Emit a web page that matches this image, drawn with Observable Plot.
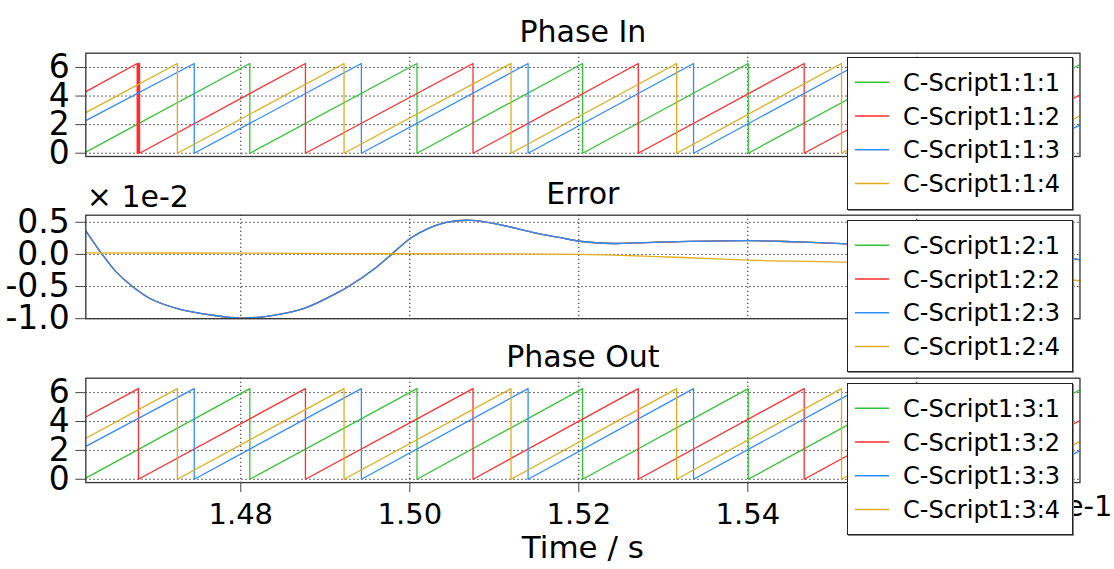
<!DOCTYPE html>
<html>
<head>
<meta charset="utf-8">
<script src="https://cdn.jsdelivr.net/npm/d3@7"></script>
<script src="https://cdn.jsdelivr.net/npm/@observablehq/plot@0.6"></script>
<style>
  html, body { margin: 0; padding: 0; background: #fff; }
  #root { position: relative; width: 1114px; height: 569px; overflow: hidden; font-family: "DejaVu Sans", sans-serif; }
  .panel { position: absolute; left: 0; }
  .legend { position: absolute; left: 847px; width: 226px; background: #fff; border: 1px solid #222; box-shadow: 1px 1px 0 #888; box-sizing: border-box; }
  .legend svg { display: block; }
</style>
</head>
<body>
<div id="root"></div>
<script>
// ---------- data ----------
const timeDomain = [1.46166, 1.57931];
const xTicks = [1.48, 1.50, 1.52, 1.54, 1.56];
const xLabelTicks = [1.48, 1.50, 1.52, 1.54];
const phaseTicks = [0, 2, 4, 6];
const errorTicks = [-1.0, -0.5, 0.0, 0.5];
const phaseDomain = [-0.23, 7.0];
const errorDomain = [-1.0, 0.61];
const phaseMax = 6.28;

const titles = ["Phase In", "Error", "Phase Out"];
const namesIn = ["C-Script1:1:1", "C-Script1:1:2", "C-Script1:1:3", "C-Script1:1:4"];
const namesErr = ["C-Script1:2:1", "C-Script1:2:2", "C-Script1:2:3", "C-Script1:2:4"];
const namesOut = ["C-Script1:3:1", "C-Script1:3:2", "C-Script1:3:3", "C-Script1:3:4"];
const colors = ["#35c435", "#ff2d2d", "#2f8cff", "#e2ad1c"];

// sawtooth reset instants (wrap 2π -> 0)
const resetsGreen = [1.48107, 1.50085, 1.52045, 1.54005, 1.55968];
const resetsRed = [1.46789, 1.48765, 1.50748, 1.52704, 1.54667, 1.56633];
const resetsRedIn = [1.46774, 1.46788, 1.46802, 1.48765, 1.50748, 1.52704, 1.54667, 1.56633];
const resetsBlue = [1.47449, 1.49427, 1.51400, 1.53358, 1.55322, 1.57288];
const resetsYellow = [1.47249, 1.49222, 1.51198, 1.53158, 1.55109, 1.57075];
// values at the left and right edges
const startValues = [0.08, 4.31, 2.28, 2.84];
const endValues = [6.2, 4.07, 1.98, 2.62];

// error (x 1e-2): phases 1..3 overlap
const errTime = [1.46170, 1.46361, 1.46517, 1.46718, 1.46931, 1.47270, 1.47689, 1.47985, 1.48328, 1.48749,
                 1.49168, 1.49275, 1.49594, 1.49783, 1.50017, 1.50228, 1.50434, 1.50730, 1.51073, 1.51496,
                 1.51783, 1.52006, 1.52411, 1.53062, 1.54005, 1.54576, 1.55180, 1.56400, 1.57925];
const errPhase = [0.36, 0.0, -0.26, -0.5, -0.69, -0.85, -0.95, -0.99, -0.96, -0.84,
                  -0.58, -0.5, -0.21, 0.0, 0.26, 0.41, 0.50, 0.53, 0.46, 0.33,
                  0.26, 0.205, 0.17, 0.195, 0.215, 0.195, 0.165, 0.10, -0.08];
const errYTime = [1.46170, 1.48, 1.50, 1.52, 1.5306, 1.54005, 1.5518, 1.5640, 1.57925];
const errYellow = [0.025, 0.02, 0.01, 0.0, -0.04, -0.09, -0.12, -0.2, -0.41];

// ---------- build tables ----------
function sawRows(name, resets, v0, v1) {
  const rows = [{series: name, t: timeDomain[0], v: v0}];
  for (const r of resets) {
    rows.push({series: name, t: r, v: phaseMax});
    rows.push({series: name, t: r, v: 0});
  }
  rows.push({series: name, t: timeDomain[1], v: v1});
  return rows;
}
function phaseTable(names, resetSets) {
  return names.flatMap((n, i) => sawRows(n, resetSets[i], startValues[i], endValues[i]));
}
const phaseInData = phaseTable(namesIn, [resetsGreen, resetsRedIn, resetsBlue, resetsYellow]);
const phaseOutData = phaseTable(namesOut, [resetsGreen, resetsRed, resetsBlue, resetsYellow]);
const errorData = [
  ...[0, 1, 2].flatMap(i => errTime.map((t, j) => ({series: namesErr[i], t, v: errPhase[j]}))),
  ...errYTime.map((t, j) => ({series: namesErr[3], t, v: errYellow[j]}))
];

// ---------- geometry ----------
const W = 1114, ML = 85.3, MR = W - 1079.5, MT = 52.7, pitch = 162.3;
const root = document.getElementById("root");
const gridStyle = {stroke: "#000", strokeOpacity: 0.9, strokeWidth: 1, strokeDasharray: "1.3,2.7"};

function panel({top, height, marginBottom, yDomain, yTicks, yFormat, data, names, title, extra = [], curve = "linear"}) {
  const chart = Plot.plot({
    width: W, height,
    marginLeft: ML, marginRight: MR, marginTop: MT, marginBottom,
    style: {fontFamily: "DejaVu Sans, sans-serif", fontSize: "33px", color: "#111", background: "transparent", overflow: "visible"},
    x: {domain: timeDomain, axis: null},
    y: {domain: yDomain, axis: null},
    color: {domain: names, range: colors},
    marks: [
      Plot.gridX(xTicks, {...gridStyle}),
      Plot.gridY(yTicks, {...gridStyle}),
      Plot.line(data, {x: "t", y: "v", z: "series", stroke: "series", strokeWidth: 1.3, curve, clip: true}),
      Plot.frame({stroke: "#333", strokeWidth: 1.3}),
      Plot.axisY(yTicks, {tickSize: 10, tickPadding: 6, tickFormat: yFormat, fontSize: 33, label: null, stroke: "#444", fill: "#000"}),
      Plot.text([title], {text: d => d, frameAnchor: "top", dy: -33, fontSize: 30, fill: "#000"}),
      ...extra
    ]
  });
  chart.classList.add("panel");
  chart.style.top = top + "px";
  root.appendChild(chart);
}

panel({top: 0, height: pitch, marginBottom: pitch - 156, yDomain: phaseDomain, yTicks: phaseTicks,
       yFormat: d => String(d), data: phaseInData, names: namesIn, title: titles[0]});

panel({top: pitch, height: pitch, marginBottom: pitch - (318.5 - pitch), yDomain: errorDomain, yTicks: errorTicks,
       yFormat: d => d.toFixed(1), data: errorData, names: namesErr, title: titles[1], curve: "catmull-rom",
       extra: [Plot.text(["× 1e-2"], {text: d => d, frameAnchor: "top-left", textAnchor: "start", dx: 1, dy: -30, fontSize: 30, fill: "#000"})]});

const h3 = 569 - 2 * pitch;
panel({top: 2 * pitch, height: h3, marginBottom: h3 - (481.7 - 2 * pitch), yDomain: phaseDomain, yTicks: phaseTicks,
       yFormat: d => String(d), data: phaseOutData, names: namesOut, title: titles[2],
       extra: [
         Plot.axisX(xLabelTicks, {tickSize: 10, tickPadding: 11, tickFormat: d => d.toFixed(2), fontSize: 29, label: null, stroke: "#444", fill: "#000"}),
         Plot.text(["Time / s"], {text: d => d, frameAnchor: "bottom", dy: 75, fontSize: 31, fill: "#000"}),
         Plot.text(["× 1e-1"], {text: d => d, frameAnchor: "bottom-right", textAnchor: "end", dx: 32.5, dy: 33, fontSize: 29, fill: "#000"})
       ]});

// ---------- legends ----------
function legend(names, top, height) {
  const div = document.createElement("div");
  div.className = "legend";
  div.style.top = top + "px";
  div.style.height = height + "px";
  const rowPitch = 33.7, first = 25.3;
  const svg = d3.create("svg").attr("width", 224).attr("height", height - 2);
  names.forEach((n, i) => {
    const y = first + i * rowPitch - 1;
    svg.append("line").attr("x1", 7).attr("x2", 41).attr("y1", y).attr("y2", y)
      .attr("stroke", colors[i]).attr("stroke-width", 1.5);
    svg.append("text").attr("x", 55).attr("y", y).attr("dy", "0.36em")
      .attr("font-family", "DejaVu Sans, sans-serif").attr("font-size", 24).attr("fill", "#000").text(n);
  });
  div.appendChild(svg.node());
  root.appendChild(div);
}
legend(namesIn, 57, 153);
legend(namesErr, 220, 152);
legend(namesOut, 383, 152);
</script>
</body>
</html>
